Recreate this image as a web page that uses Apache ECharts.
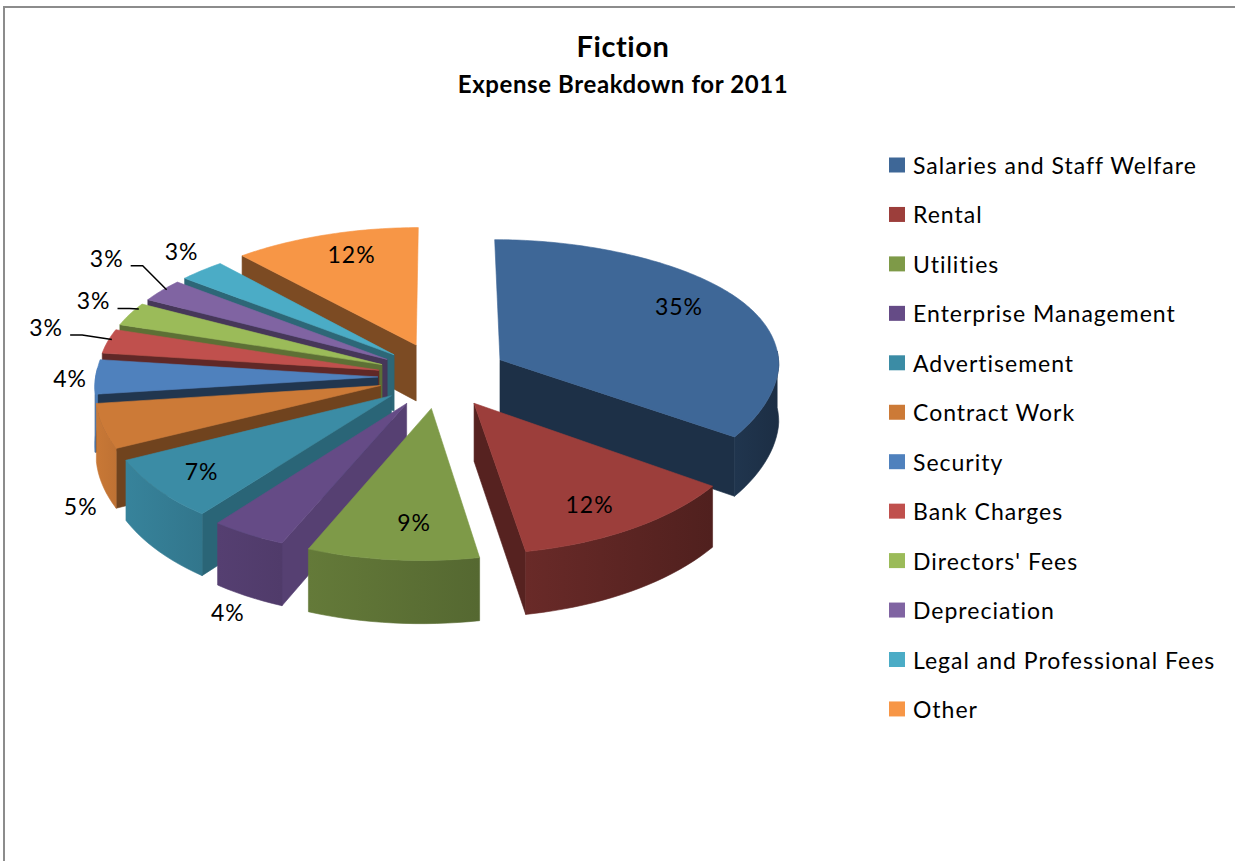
<!DOCTYPE html>
<html>
<head>
<meta charset="utf-8">
<title>Fiction - Expense Breakdown for 2011</title>
<style>
  html, body { margin: 0; padding: 0; background: #ffffff; }
  #chart { width: 1235px; height: 861px; }
  svg text { letter-spacing: 1px; font-variant-ligatures: none !important; }
  svg text[style*="bold"] { letter-spacing: 0.6px; }
</style>
<script src="https://cdn.jsdelivr.net/npm/echarts@6/dist/echarts.min.js"></script>
</head>
<body>
<div id="chart"></div>
<script>
// Expense shares, in percent
const categories = ['Salaries and Staff Welfare', 'Rental', 'Utilities', 'Enterprise Management',
  'Advertisement', 'Contract Work', 'Security', 'Bank Charges', "Directors' Fees",
  'Depreciation', 'Legal and Professional Fees', 'Other'];
const shares = [35, 12, 9, 4, 7, 5, 4, 3, 3, 3, 3, 12];
const sliceColors = ['#3E6797', '#9C3E3B', '#7E9A48', '#654B86', '#3B8CA5', '#CC7A37',
  '#4F81BD', '#C0504D', '#9BBB59', '#8064A2', '#4BACC6', '#F79646'];

// Brightness of the cut face of each wedge
const faceShades = [0.47, 0.55, 0.6, 0.85, 0.72, 0.55, 0.42, 0.5, 0.6, 0.55, 0.6, 0.5];
// How far each wedge is pulled out of the pie
const explosion = [68, 66, 66, 64, 62, 62, 62, 62, 62, 62, 62, 66];
// Label anchor: radius as a fraction of the pie radius, and angle offset from the wedge middle
const labelRadius = [0.80, 0.792, 0.762, 1.438, 0.807, 1.259, 1.097, 1.279, 1.207, 1.386, 1.208, 0.804];
const labelTurn = [-4.9, 2.3, -3, -8, 1.25, -21, 3.2, 6.1, 5, 6.35, 4.1, 2.8];
// Leader lines: angle offset of the line's end on the rim; null means no line
const leaderTurn = [null, null, null, null, null, null, null, 1, 3, 1, null, null];

// Projection of the tilted pie
const CX = 440, CY = 375;      // pie centre on the page
const RADIUS = 280;            // rim radius
const DEPTH_RADIUS = 0.965;    // rim radius along the line of sight, relative to RADIUS
const TILT = 0.498;            // vertical squash
const DEPTH = 3090;            // perspective distance
const FRONT_SKEW = 0.035;      // sideways lean of the half nearest the viewer
const RIM_BOW = 4;             // upward bend of the far left and right ends
const THICKNESS = 57;          // height of the wedges

const FONT = 'Lato';
const total = shares.reduce((a, b) => a + b, 0);
const bounds = [];
shares.reduce((acc, v) => { bounds.push([acc, acc + v]); return acc + v; }, 0);

const rad = d => d * Math.PI / 180;
const toAngle = pct => pct / total * 360;

function project(u, v, lift, bow) {
  const s = 1 + v / DEPTH;
  return [
    CX + u * s - FRONT_SKEW * Math.max(v, 0),
    CY + TILT * v * s + (lift || 0) * s - bow * Math.pow(u / RADIUS, 4)
  ];
}
function tint(hex, f) {
  const n = parseInt(hex.slice(1), 16);
  const c = [n >> 16, (n >> 8) & 255, n & 255].map(x => Math.round(Math.min(255, x * f)));
  return 'rgb(' + c.join(',') + ')';
}
// The rim gets lighter going clockwise around the front of the pie
const rimShade = a => Math.max(0.45, Math.min(0.98, 0.45 + (a - 108) * 0.52 / 142));

function renderWedge(params, api) {
  const i = params.seriesIndex;
  const a0 = toAngle(api.value(0));
  const a1 = toAngle(api.value(1));
  const mid = (a0 + a1) / 2;
  const color = sliceColors[i];
  const plane = (angle, r) => [
    explosion[i] * Math.sin(rad(mid)) + r * Math.sin(rad(angle)),
    -explosion[i] * Math.cos(rad(mid)) - r * DEPTH_RADIUS * Math.cos(rad(angle))
  ];
  const at = (angle, r, lift) => {
    const p = plane(angle, r);
    return project(p[0], p[1], lift, RIM_BOW);
  };
  const solid = (fill) => ({ fill, stroke: fill, lineWidth: 0.6 });
  const children = [];
  const face = angle => {
    children.push({
      type: 'polygon',
      shape: { points: [at(angle, 0), at(angle, RADIUS), at(angle, RADIUS, THICKNESS), at(angle, 0, THICKNESS)] },
      style: solid(tint(color, faceShades[i]))
    });
  };
  if (a0 > 180) face(a0);
  if (a1 < 180) face(a1);

  // Outer wall, only the part turned towards the viewer
  const from = Math.max(a0, 90), to = Math.min(a1, 270);
  if (to > from) {
    const upper = [], lower = [];
    for (let a = from; a < to; a += 2) {
      upper.push(at(a, RADIUS));
      lower.unshift(at(a, RADIUS, THICKNESS));
    }
    upper.push(at(to, RADIUS));
    lower.unshift(at(to, RADIUS, THICKNESS));
    children.push({
      type: 'polygon',
      shape: { points: upper.concat(lower) },
      style: solid(new echarts.graphic.LinearGradient(0, 0, 1, 0, [
        { offset: 0, color: tint(color, rimShade(to)) },
        { offset: 1, color: tint(color, rimShade(from)) }
      ]))
    });
  }

  // Top surface
  const top = [at(a0, 0)];
  for (let a = a0; a < a1; a += 1) top.push(at(a, RADIUS));
  top.push(at(a1, RADIUS));
  children.push({ type: 'polygon', shape: { points: top }, style: solid(color) });

  // Percentage label and its optional leader line
  const lq = plane(mid + labelTurn[i], labelRadius[i] * RADIUS);
  const lp = project(lq[0], lq[1], 0, 0);
  if (leaderTurn[i] !== null) {
    const tip = at(mid + leaderTurn[i], RADIUS * 0.99);
    const startX = lp[0] + 24, startY = lp[1] + 8;
    children.push({
      type: 'polyline',
      shape: { points: [[startX, startY], [startX + 12, startY], tip] },
      style: { stroke: '#000000', lineWidth: 1.5, fill: null }
    });
  }
  children.push({
    type: 'text',
    style: {
      text: Math.round(api.value(1) - api.value(0)) + '%',
      x: lp[0], y: lp[1], align: 'center', verticalAlign: 'middle',
      fill: '#000000', fontFamily: FONT, fontSize: 23
    }
  });
  return { type: 'group', children };
}

// Wedges nearest the back are painted first
const paintRank = bounds.map((b, i) => ({ i, depth: -Math.cos(rad(toAngle((b[0] + b[1]) / 2))) }))
  .sort((p, q) => p.depth - q.depth)
  .reduce((acc, p, r) => { acc[p.i] = r; return acc; }, []);

const chart = echarts.init(document.getElementById('chart'), null, { renderer: 'svg' });
chart.setOption({
  backgroundColor: '#ffffff',
  animation: false,
  title: {
    text: 'Fiction',
    subtext: 'Expense Breakdown for 2011',
    left: 618, top: 26, textAlign: 'center', itemGap: 11,
    textStyle: { fontFamily: FONT, fontSize: 29, fontWeight: 'bold', color: '#000000' },
    subtextStyle: { fontFamily: FONT, fontSize: 24, fontWeight: 'bold', color: '#000000' }
  },
  legend: {
    orient: 'vertical', left: 889, top: 152, padding: 0,
    icon: 'rect', itemWidth: 16, itemHeight: 15, itemGap: 23.45,
    selectedMode: false,
    textStyle: { fontFamily: FONT, fontSize: 23, color: '#000000', padding: [0, 0, 0, 3], lineHeight: 26 },
    data: categories
  },
  graphic: [{
    type: 'polyline',
    silent: true,
    shape: { points: [[4, 861], [4, 7], [1235, 7]] },
    style: { stroke: '#8c8c8c', lineWidth: 2, fill: null }
  }],
  series: categories.map((name, i) => ({
    type: 'custom',
    name,
    coordinateSystem: 'none',
    z: 2 + paintRank[i],
    silent: true,
    itemStyle: { color: sliceColors[i] },
    renderItem: renderWedge,
    data: [bounds[i]]
  }))
});
</script>
</body>
</html>
